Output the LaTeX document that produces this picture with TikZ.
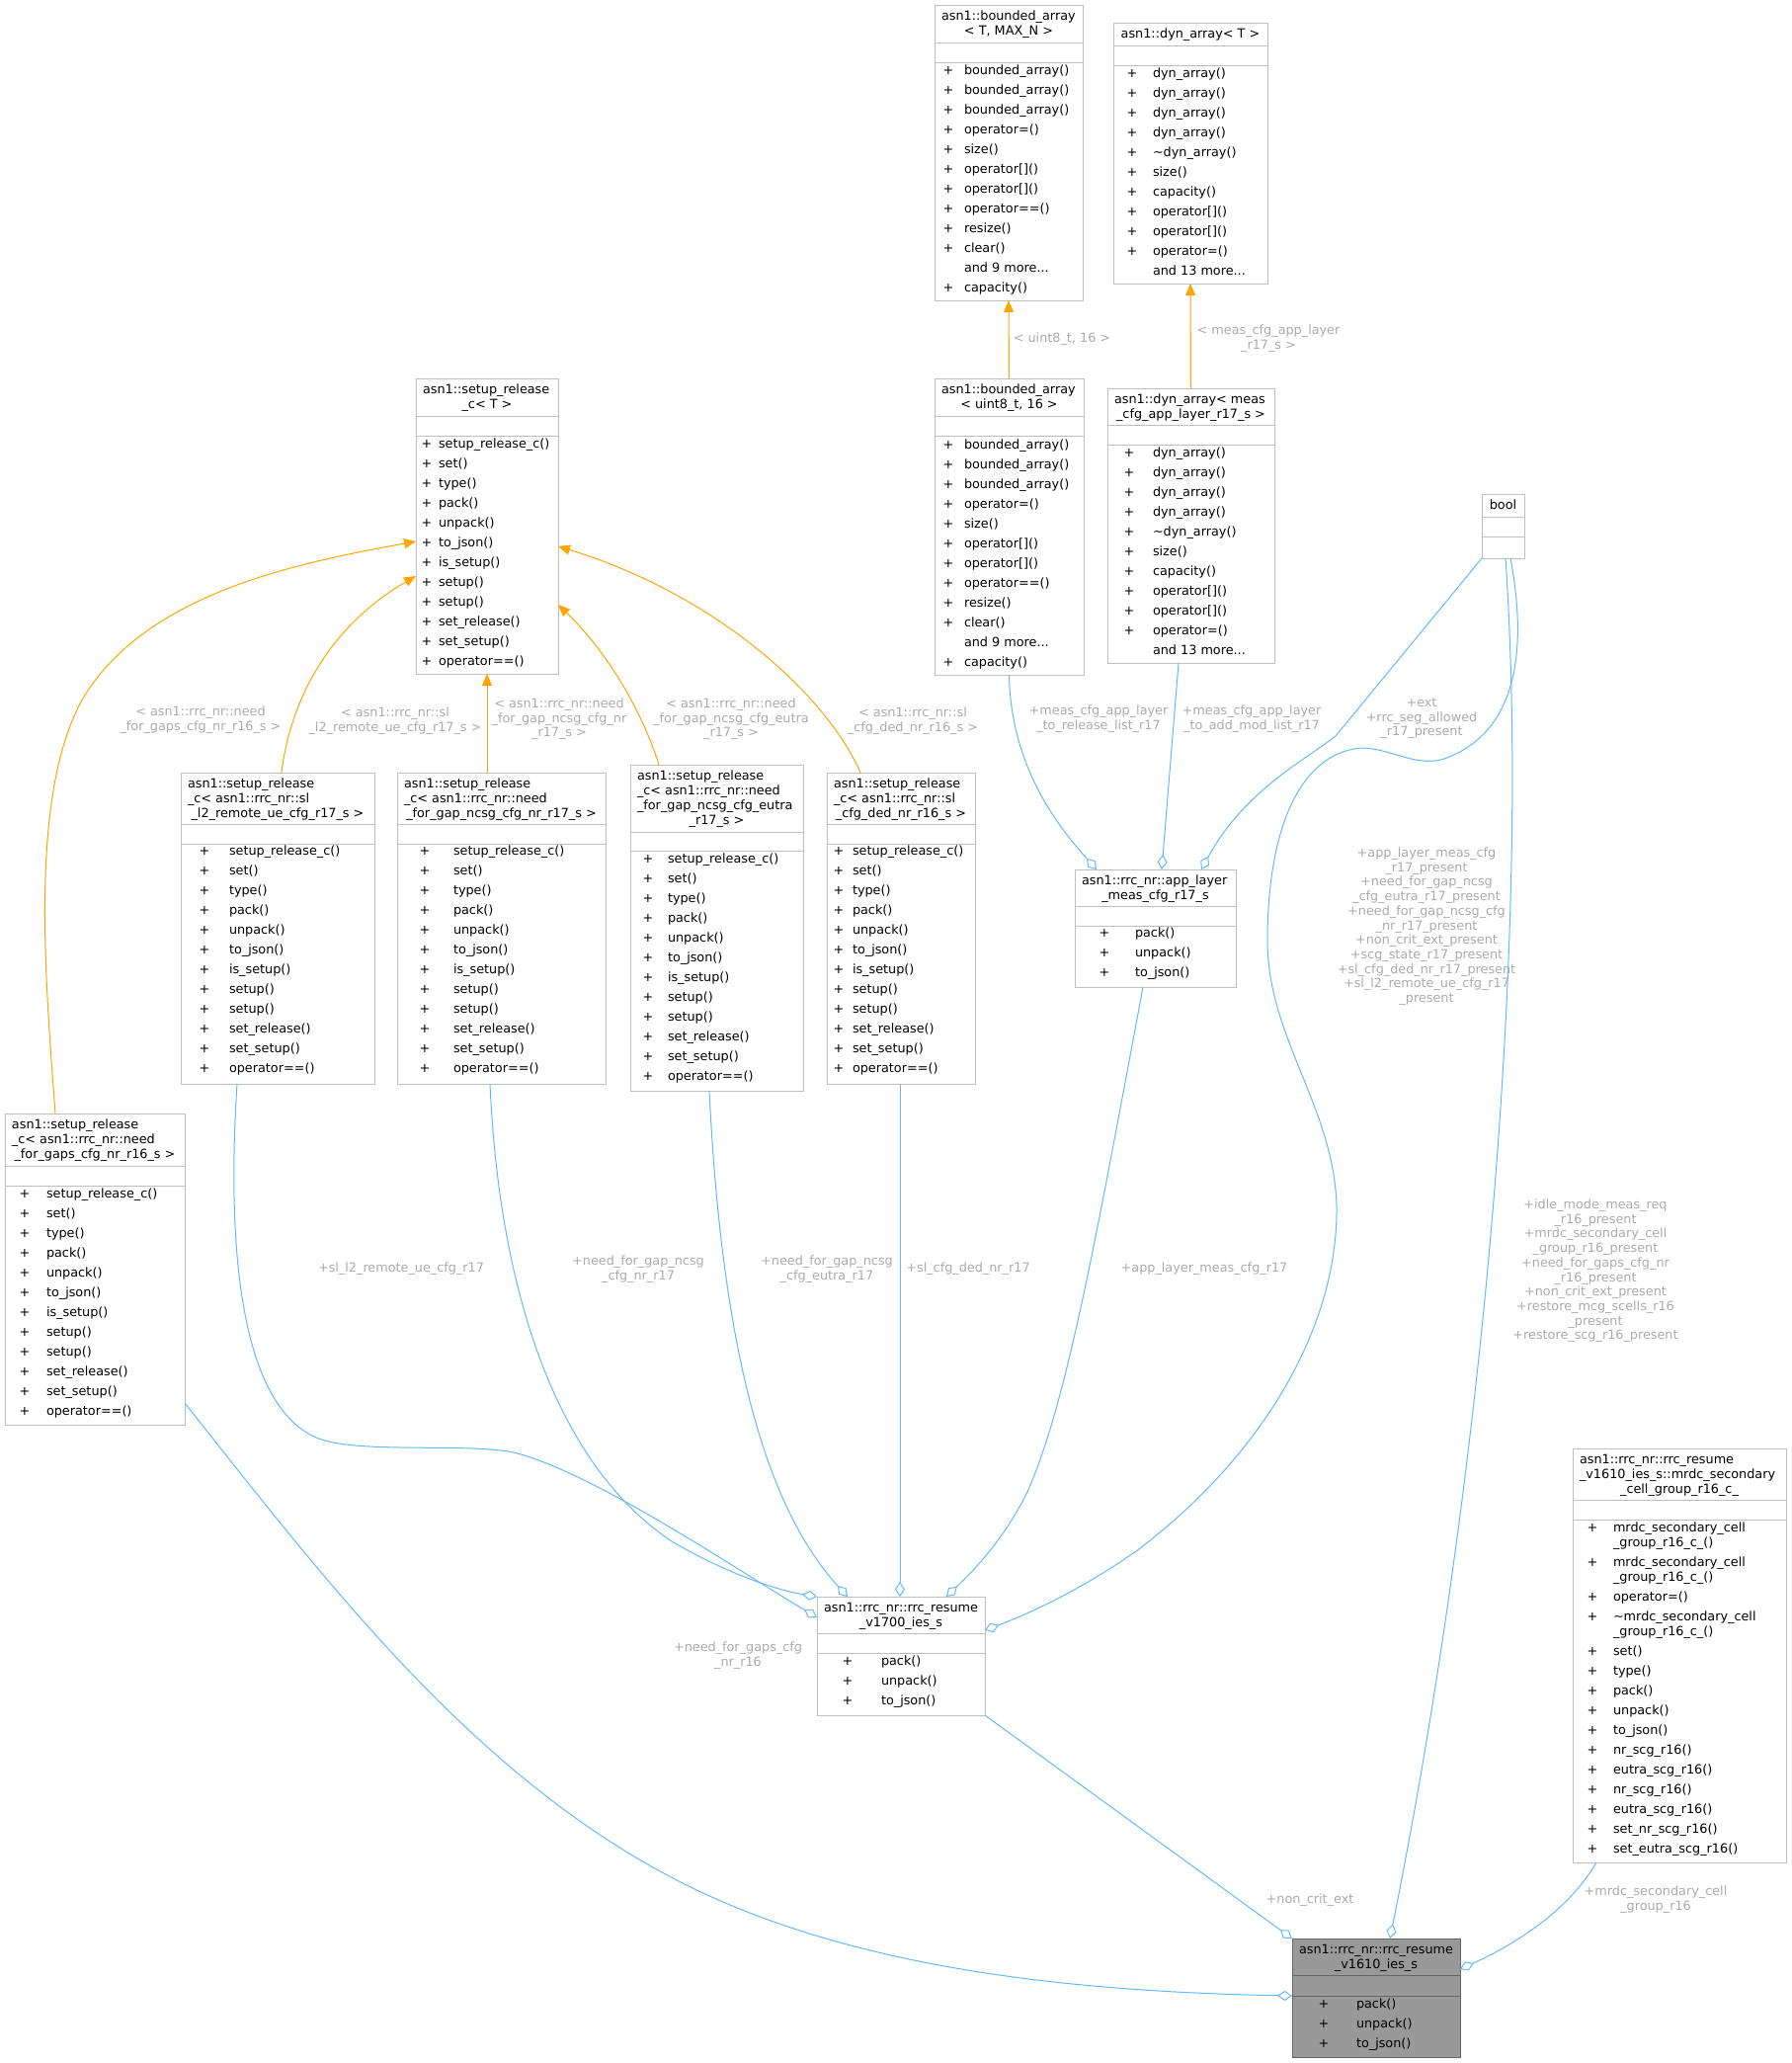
\documentclass[tikz,border=0pt]{standalone}
\usepackage{fontspec}
\setmainfont{DejaVu Sans}
\usetikzlibrary{arrows.meta,calc}
\definecolor{boxline}{HTML}{BFBFBF}
\definecolor{lbl}{HTML}{ABABAB}
\definecolor{orn}{HTML}{FFA500}
\definecolor{blu}{HTML}{63B8FF}
\definecolor{hifill}{HTML}{999999}
\definecolor{hiline}{HTML}{666666}
\newcount\tcnt
\tikzset{
  every node/.style={font=\fontsize{12.8}{15}\selectfont, inner sep=0pt, outer sep=0pt, text height=9.5pt, text depth=2.5pt},
  cls/.style={draw=boxline, line width=1pt, fill=white, anchor=north west},
  clssep/.style={draw=boxline, line width=1pt},
  clshi/.style={draw=hiline, line width=1pt, fill=hifill, anchor=north west},
  clshisep/.style={draw=hiline, line width=1pt},
  inh/.style={draw=orn, line width=1pt, -{Triangle[length=12pt,width=10pt,fill=orn]}},
  usee/.style={draw=blu, line width=1pt, -{Diamond[length=15pt,width=10pt,fill=white]}},
  lbltext/.style={text=lbl}
}
\newcommand\umlbox[8]{%
  \node[#1, minimum width={#5-#3}, minimum height={#6-#4}] (#2) at (#3,#4) {};
  \draw[#1sep] (#3,#7) -- (#5,#7) (#3,#8) -- (#5,#8);}
\newcommand\members[5]{%
  \foreach \mitem [count=\i from 0] in {#5} {%
    \node (#1p\i) at (#2,{#4+20*\i}) {+};
    \node[anchor=west] (#1m\i) at (#3,{#4+20*\i}) {\mitem};}}
\newcommand\tleft[3]{\global\advance\tcnt by 1 \node[anchor=west] (tt\the\tcnt) at (#1,#2) {#3};}
\newcommand\tcent[3]{\global\advance\tcnt by 1 \node (tt\the\tcnt) at (#1,#2) {#3};}
\newcommand\elab[3]{%
  \foreach \mylbl [count=\i from 0] in {#3} {%
    \global\advance\tcnt by 1
    \node[lbltext] (el\the\tcnt) at (#1,{#2+14.7*\i}) {\mylbl};}}
\begin{document}
\begin{tikzpicture}[x=1pt,y=-1pt]
\useasboundingbox (0,0) rectangle (1813,2088);

% ---------- boxes ----------
\umlbox{cls}{bat}{946}{5}{1096}{304}{43}{63}
\tleft{953}{17}{asn1::bounded\_array}
\tcent{1021}{32}{< T, MAX\_N >}
\members{bat}{960}{976}{72}{bounded\_array(),bounded\_array(),bounded\_array(),operator=(),size(),operator[](),operator[](),operator==(),resize(),clear()}
\node[anchor=west] (batmore) at (976,272) {and 9 more...};
\node (batpc) at (960,292) {+};
\node[anchor=west] (batmc) at (976,292) {capacity()};

\umlbox{cls}{dat}{1127}{23}{1283}{287}{46}{66}
\tcent{1205}{35}{asn1::dyn\_array< T >}
\members{dat}{1146}{1167}{75}{dyn\_array(),dyn\_array(),dyn\_array(),dyn\_array(),\textasciitilde{}dyn\_array(),size(),capacity(),operator[](),operator[](),operator=()}
\node[anchor=west] (datmore) at (1167,275) {and 13 more...};

\umlbox{cls}{srt}{421}{383}{565}{682}{421}{441}
\tleft{428}{395}{asn1::setup\_release}
\tcent{493}{410}{\_c< T >}
\members{srt}{432}{444}{450}{setup\_release\_c(),set(),type(),pack(),unpack(),to\_json(),is\_setup(),setup(),setup(),set\_release(),set\_setup(),operator==()}

\umlbox{cls}{baeight}{946}{383}{1097}{683}{421}{441}
\tleft{953}{395}{asn1::bounded\_array}
\tcent{1021.5}{410}{< uint8\_t, 16 >}
\members{bae}{960}{976}{451}{bounded\_array(),bounded\_array(),bounded\_array(),operator=(),size(),operator[](),operator[](),operator==(),resize(),clear()}
\node[anchor=west] (baemore) at (976,651) {and 9 more...};
\node (baepc) at (960,671) {+};
\node[anchor=west] (baemc) at (976,671) {capacity()};

\umlbox{cls}{dam}{1121}{393}{1290}{671}{430}{450}
\tleft{1128}{405}{asn1::dyn\_array< meas}
\tcent{1205.5}{420}{\_cfg\_app\_layer\_r17\_s >}
\members{dam}{1143}{1167}{459}{dyn\_array(),dyn\_array(),dyn\_array(),dyn\_array(),\textasciitilde{}dyn\_array(),size(),capacity(),operator[](),operator[](),operator=()}
\node[anchor=west] (dammore) at (1167,659) {and 13 more...};

\umlbox{cls}{boolb}{1500}{500}{1543}{565}{523}{543}
\tcent{1521.5}{512}{bool}

\umlbox{cls}{srgaps}{5}{1127}{187}{1442}{1180}{1200}
\tleft{12}{1139}{asn1::setup\_release}
\tleft{12}{1154}{\_c< asn1::rrc\_nr::need}
\tcent{96}{1169}{\_for\_gaps\_cfg\_nr\_r16\_s >}
\members{srg}{25}{47}{1209}{setup\_release\_c(),set(),type(),pack(),unpack(),to\_json(),is\_setup(),setup(),setup(),set\_release(),set\_setup(),operator==()}

\umlbox{cls}{srl}{183}{782}{379}{1097}{834}{854}
\tleft{190}{794}{asn1::setup\_release}
\tleft{190}{809}{\_c< asn1::rrc\_nr::sl}
\tcent{281}{824}{\_l2\_remote\_ue\_cfg\_r17\_s >}
\members{srl}{207}{232}{862}{setup\_release\_c(),set(),type(),pack(),unpack(),to\_json(),is\_setup(),setup(),setup(),set\_release(),set\_setup(),operator==()}

\umlbox{cls}{srnr}{402}{782}{613}{1097}{834}{854}
\tleft{409}{794}{asn1::setup\_release}
\tleft{409}{809}{\_c< asn1::rrc\_nr::need}
\tcent{507.5}{824}{\_for\_gap\_ncsg\_cfg\_nr\_r17\_s >}
\members{srn}{430}{459}{862}{setup\_release\_c(),set(),type(),pack(),unpack(),to\_json(),is\_setup(),setup(),setup(),set\_release(),set\_setup(),operator==()}

\umlbox{cls}{sreu}{638}{774}{813}{1104}{842}{861}
\tleft{645}{786}{asn1::setup\_release}
\tleft{645}{801}{\_c< asn1::rrc\_nr::need}
\tleft{645}{816}{\_for\_gap\_ncsg\_cfg\_eutra}
\tcent{725.5}{831}{\_r17\_s >}
\members{sre}{656}{676}{870}{setup\_release\_c(),set(),type(),pack(),unpack(),to\_json(),is\_setup(),setup(),setup(),set\_release(),set\_setup(),operator==()}

\umlbox{cls}{srded}{837}{782}{987}{1097}{834}{854}
\tleft{844}{794}{asn1::setup\_release}
\tleft{844}{809}{\_c< asn1::rrc\_nr::sl}
\tcent{912}{824}{\_cfg\_ded\_nr\_r16\_s >}
\members{srd}{849}{863}{862}{setup\_release\_c(),set(),type(),pack(),unpack(),to\_json(),is\_setup(),setup(),setup(),set\_release(),set\_setup(),operator==()}

\umlbox{cls}{app}{1088}{880}{1251}{999}{917}{937}
\tleft{1095}{892}{asn1::rrc\_nr::app\_layer}
\tcent{1169.5}{907}{\_meas\_cfg\_r17\_s}
\members{app}{1118}{1149}{945}{pack(),unpack(),to\_json()}

\umlbox{cls}{vseventeen}{827}{1616}{997}{1736}{1653}{1673}
\tleft{834}{1628}{asn1::rrc\_nr::rrc\_resume}
\tcent{912}{1643}{\_v1700\_ies\_s}
\members{vst}{858}{892}{1682}{pack(),unpack(),to\_json()}

\umlbox{clshi}{vsixteen}{1308}{1962}{1478}{2082}{1999}{2020}
\tleft{1315}{1974}{asn1::rrc\_nr::rrc\_resume}
\tcent{1393}{1989}{\_v1610\_ies\_s}
\members{vsi}{1340}{1373}{2029}{pack(),unpack(),to\_json()}

\umlbox{cls}{mrdc}{1592}{1466}{1808}{1885}{1518}{1538}
\tleft{1599}{1478}{asn1::rrc\_nr::rrc\_resume}
\tleft{1599}{1493}{\_v1610\_ies\_s::mrdc\_secondary}
\tcent{1700}{1508}{\_cell\_group\_r16\_c\_}
\node (mrp0) at (1612,1547) {+};
\node[anchor=west] (mrm0) at (1633,1547) {mrdc\_secondary\_cell};
\node[anchor=west] (mrm0b) at (1633,1562) {\_group\_r16\_c\_()};
\node (mrp1) at (1612,1582) {+};
\node[anchor=west] (mrm1) at (1633,1582) {mrdc\_secondary\_cell};
\node[anchor=west] (mrm1b) at (1633,1597) {\_group\_r16\_c\_()};
\node (mrp2) at (1612,1617) {+};
\node[anchor=west] (mrm2) at (1633,1617) {operator=()};
\node (mrp3) at (1612,1637) {+};
\node[anchor=west] (mrm3) at (1633,1637) {\textasciitilde{}mrdc\_secondary\_cell};
\node[anchor=west] (mrm3b) at (1633,1652) {\_group\_r16\_c\_()};
\members{mrr}{1612}{1633}{1672}{set(),type(),pack(),unpack(),to\_json(),nr\_scg\_r16(),eutra\_scg\_r16(),nr\_scg\_r16(),eutra\_scg\_r16(),set\_nr\_scg\_r16(),set\_eutra\_scg\_r16()}

% ---------- template edges (orange) ----------
\draw[inh] (baeight.north) -- (bat.south);
\draw[inh] (dam.north) -- (dat.south);
\draw[inh] ($(srgaps.north west)+(51,0)$) .. controls (45,980) and (30,800) .. (85,705) .. controls (150,600) and (300,570) .. ($(srt.north west)+(0,165)$);
\draw[inh] ($(srl.north west)+(102,0)$) .. controls (295,700) and (340,630) .. ($(srt.north west)+(0,200)$);
\draw[inh] ($(srnr.north west)+(91,0)$) -- (srt.south);
\draw[inh] ($(sreu.north west)+(29,0)$) .. controls (650,720) and (615,660) .. ($(srt.north east)+(0,229)$);
\draw[inh] ($(srded.north west)+(34,0)$) .. controls (835,700) and (720,600) .. ($(srt.north east)+(0,170)$);

% ---------- usage edges (blue) ----------
\draw[usee] (baeight.south) .. controls (1023,770) and (1065,830) .. ($(app.north west)+(22,0)$);
\draw[usee] ($(dam.south west)+(72,0)$) -- ($(app.north west)+(88,0)$);
\draw[usee] (boolb.south west) -- (1352,745) .. controls (1320,770) and (1260,800) .. ($(app.north west)+(128,0)$);
\draw[usee] ($(boolb.south west)+(29,0)$) .. controls (1545,650) and (1540,740) .. (1462,768) .. controls (1430,778) and (1400,752) .. (1370,758) .. controls (1310,770) and (1283,850) .. (1283,952) .. controls (1283,1050) and (1350,1120) .. (1353,1220) .. controls (1355,1350) and (1270,1480) .. (1150,1570) .. controls (1100,1605) and (1050,1630) .. ($(vseventeen.north east)+(0,34)$);
\draw[usee] ($(boolb.south west)+(24,0)$) .. controls (1550,950) and (1500,1500) .. ($(vsixteen.north west)+(99,0)$);
\draw[usee] (vseventeen.south east) -- (vsixteen.north west);
\draw[usee] ($(mrdc.south west)+(24,0)$) .. controls (1590,1930) and (1540,1965) .. ($(vsixteen.north east)+(0,31)$);
\draw[usee] ($(srgaps.north east)+(0,293)$) .. controls (330,1600) and (480,1800) .. (693,1907) .. controls (850,1985) and (1050,2015) .. ($(vsixteen.north west)+(0,58)$);
\draw[usee] ($(srl.south west)+(57,0)$) .. controls (230,1250) and (240,1420) .. (320,1455) .. controls (360,1472) and (470,1460) .. (520,1470) .. controls (600,1490) and (740,1585) .. ($(vseventeen.north west)+(0,21)$);
\draw[usee] ($(srnr.south west)+(94,0)$) .. controls (505,1300) and (560,1480) .. (680,1560) .. controls (740,1595) and (790,1610) .. (vseventeen.north west);
\draw[usee] ($(sreu.south west)+(80,0)$) .. controls (730,1350) and (770,1520) .. ($(vseventeen.north west)+(31,0)$);
\draw[usee] ($(srded.south west)+(74,0)$) -- ($(vseventeen.north west)+(84,0)$);
\draw[usee] ($(app.south west)+(69,0)$) .. controls (1110,1250) and (1080,1420) .. (1040,1510) .. controls (1015,1560) and (985,1590) .. ($(vseventeen.north west)+(131,0)$);

% ---------- edge labels ----------
\elab{1075}{343}{{< uint8\_t, 16 >}}
\elab{1284}{335}{< meas\_cfg\_app\_layer,\_r17\_s >}
\elab{203}{721}{< asn1::rrc\_nr::need,\_for\_gaps\_cfg\_nr\_r16\_s >}
\elab{400}{722}{< asn1::rrc\_nr::sl,\_l2\_remote\_ue\_cfg\_r17\_s >}
\elab{566}{713}{< asn1::rrc\_nr::need,\_for\_gap\_ncsg\_cfg\_nr,\_r17\_s >}
\elab{740}{713}{< asn1::rrc\_nr::need,\_for\_gap\_ncsg\_cfg\_eutra,\_r17\_s >}
\elab{924}{722}{< asn1::rrc\_nr::sl,\_cfg\_ded\_nr\_r16\_s >}
\elab{1112}{720}{+meas\_cfg\_app\_layer,\_to\_release\_list\_r17}
\elab{1267}{720}{+meas\_cfg\_app\_layer,\_to\_add\_mod\_list\_r17}
\elab{1439}{712}{+ext,+rrc\_seg\_allowed,\_r17\_present}
\elab{1444}{864}{+app\_layer\_meas\_cfg,\_r17\_present,+need\_for\_gap\_ncsg,\_cfg\_eutra\_r17\_present,+need\_for\_gap\_ncsg\_cfg,\_nr\_r17\_present,+non\_crit\_ext\_present,+scg\_state\_r17\_present,+sl\_cfg\_ded\_nr\_r17\_present,+sl\_l2\_remote\_ue\_cfg\_r17,\_present}
\elab{1615}{1220}{+idle\_mode\_meas\_req,\_r16\_present,+mrdc\_secondary\_cell,\_group\_r16\_present,+need\_for\_gaps\_cfg\_nr,\_r16\_present,+non\_crit\_ext\_present,+restore\_mcg\_scells\_r16,\_present,+restore\_scg\_r16\_present}
\elab{1326}{1923}{+non\_crit\_ext}
\elab{1676}{1915}{+mrdc\_secondary\_cell,\_group\_r16}
\elab{747}{1668}{+need\_for\_gaps\_cfg,\_nr\_r16}
\elab{406}{1284}{+sl\_l2\_remote\_ue\_cfg\_r17}
\elab{646}{1277}{+need\_for\_gap\_ncsg,\_cfg\_nr\_r17}
\elab{837}{1277}{+need\_for\_gap\_ncsg,\_cfg\_eutra\_r17}
\elab{980}{1284}{+sl\_cfg\_ded\_nr\_r17}
\elab{1219}{1284}{+app\_layer\_meas\_cfg\_r17}
\end{tikzpicture}
\end{document}
